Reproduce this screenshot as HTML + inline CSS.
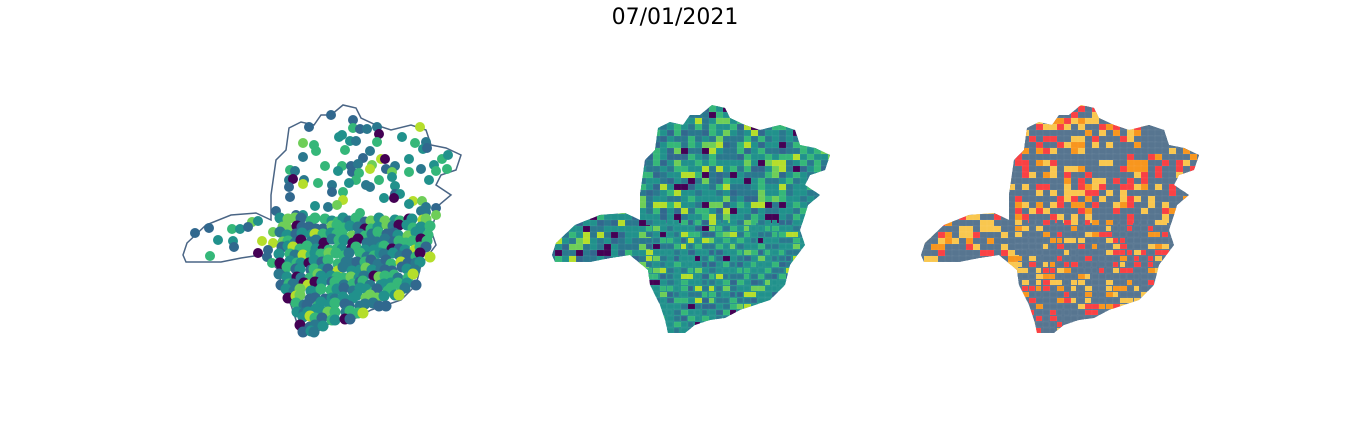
<!DOCTYPE html>
<html><head><meta charset="utf-8">
<style>
html,body{margin:0;padding:0;background:#fff;}
body{width:1350px;height:444px;overflow:hidden;}
#title{position:absolute;left:0;width:1350px;top:5px;text-align:center;font-family:"DejaVu Sans","Liberation Sans",sans-serif;font-size:22px;color:#000;}
</style></head>
<body>
<div id="title">07/01/2021</div>
<svg id="svg" width="1350" height="444" style="position:absolute;left:0;top:0"></svg>
<script>
// outline of the state (middle-map coordinates)
const outlineX=[552,556,575,600,625,640,640,645,655,658,670,683,690,700,712,725,730,745,760,780,795,800,815,830,825,810,805,820,808,805,800,805,790,785,770,755,740,725,710,695,685,668,665,660,650,648,630,610,590,570,555];
const outlineY=[255,243,225,215,213,220,195,160,150,128,122,125,115,115,105,108,118,125,130,125,130,145,148,155,170,175,185,195,205,215,230,245,265,285,300,305,310,318,320,325,333,333,320,305,285,270,255,258,262,262,262];
const panelOffsets=[-369,0,369];
const midPalette=['#21918c','#2a788e','#35b779','#21918c','#31688e','#21918c','#2a788e','#35b779','#21918c','#6ece58','#2a788e','#21918c','#35b779','#31688e','#440154','#b5de2b','#21918c','#2a788e'];
const rightPalette=['#577590','#577590','#f94144','#f9c74f','#577590','#f9c74f','#577590','#f94144','#577590','#f8961e','#577590','#577590'];
const dotPalette=['#21918c','#2a788e','#35b779','#21918c','#31688e','#35b779','#21918c','#2a788e','#35b779','#6ece58','#21918c','#31688e','#440154','#b5de2b'];

const NS='http://www.w3.org/2000/svg';
const svg=document.getElementById('svg');
function inside(x,y){let c=false;for(let i=0,j=outlineX.length-1;i<outlineX.length;j=i++){const xi=outlineX[i],yi=outlineY[i],xj=outlineX[j],yj=outlineY[j];if(((yi>y)!=(yj>y))&&(x<(xj-xi)*(y-yi)/(yj-yi)+xi))c=!c;}return c;}
function h(a,b){let n=(a*73856093)^(b*19349663);n=(n^(n>>13))*1274126177;return Math.abs(n^(n>>16));}
function pts(dx){return outlineX.map((x,i)=>(x+dx)+','+outlineY[i]).join(' ');}

panelOffsets.forEach((dx,p)=>{
  const g=document.createElementNS(NS,'g');
  
  
  svg.appendChild(g);
  const defs=document.createElementNS(NS,'clipPath');defs.setAttribute('id','clip'+p);
  const cp=document.createElementNS(NS,'polygon');cp.setAttribute('points',pts(dx));defs.appendChild(cp);g.appendChild(defs);
  if(p===0){
    const o=document.createElementNS(NS,'polygon');o.setAttribute('points',pts(dx));
    o.setAttribute('fill','none');o.setAttribute('stroke','#4a6585');o.setAttribute('stroke-width','1.5');
    
    
    g.appendChild(o);
    for(let y=108;y<335;y+=7)for(let x=552;x<832;x+=7){
      const k=h(x,y);
      const south=y>215 && x>645;
      if(!inside(x,y))continue;
      if(!south && k%3!==0)continue;
      const c=document.createElementNS(NS,'circle');
      c.setAttribute('cx',x+dx+(k%5)-2);c.setAttribute('cy',y+((k>>3)%5)-2);
      c.setAttribute('r',south?5.5:5);
      c.setAttribute('fill',dotPalette[(k>>5)%dotPalette.length]);
      
      
      g.appendChild(c);
    }
  } else {
    const pal=p===1?midPalette:rightPalette;
    const cg=document.createElementNS(NS,'g');cg.setAttribute('clip-path','url(#clip'+p+')');g.appendChild(cg);
    const bg=document.createElementNS(NS,'polygon');bg.setAttribute('points',pts(dx));bg.setAttribute('fill',pal[0]);
    
    
    cg.appendChild(bg);
    for(let y=100;y<340;y+=6)for(let x=548;x<835;x+=7){
      const k=h(x+p*7,y);
      const r=document.createElementNS(NS,'rect');
      const s=y>215&&x>645?5:9;
      r.setAttribute('x',x+dx);r.setAttribute('y',y);r.setAttribute('width',s+(k%4));r.setAttribute('height',s);
      r.setAttribute('fill',pal[(k>>4)%pal.length]);
      r.setAttribute('stroke','#ffffff');r.setAttribute('stroke-opacity','0.12');r.setAttribute('stroke-width','0.4');
      
      
      cg.appendChild(r);
    }
  }
});
</script>
</body></html>
